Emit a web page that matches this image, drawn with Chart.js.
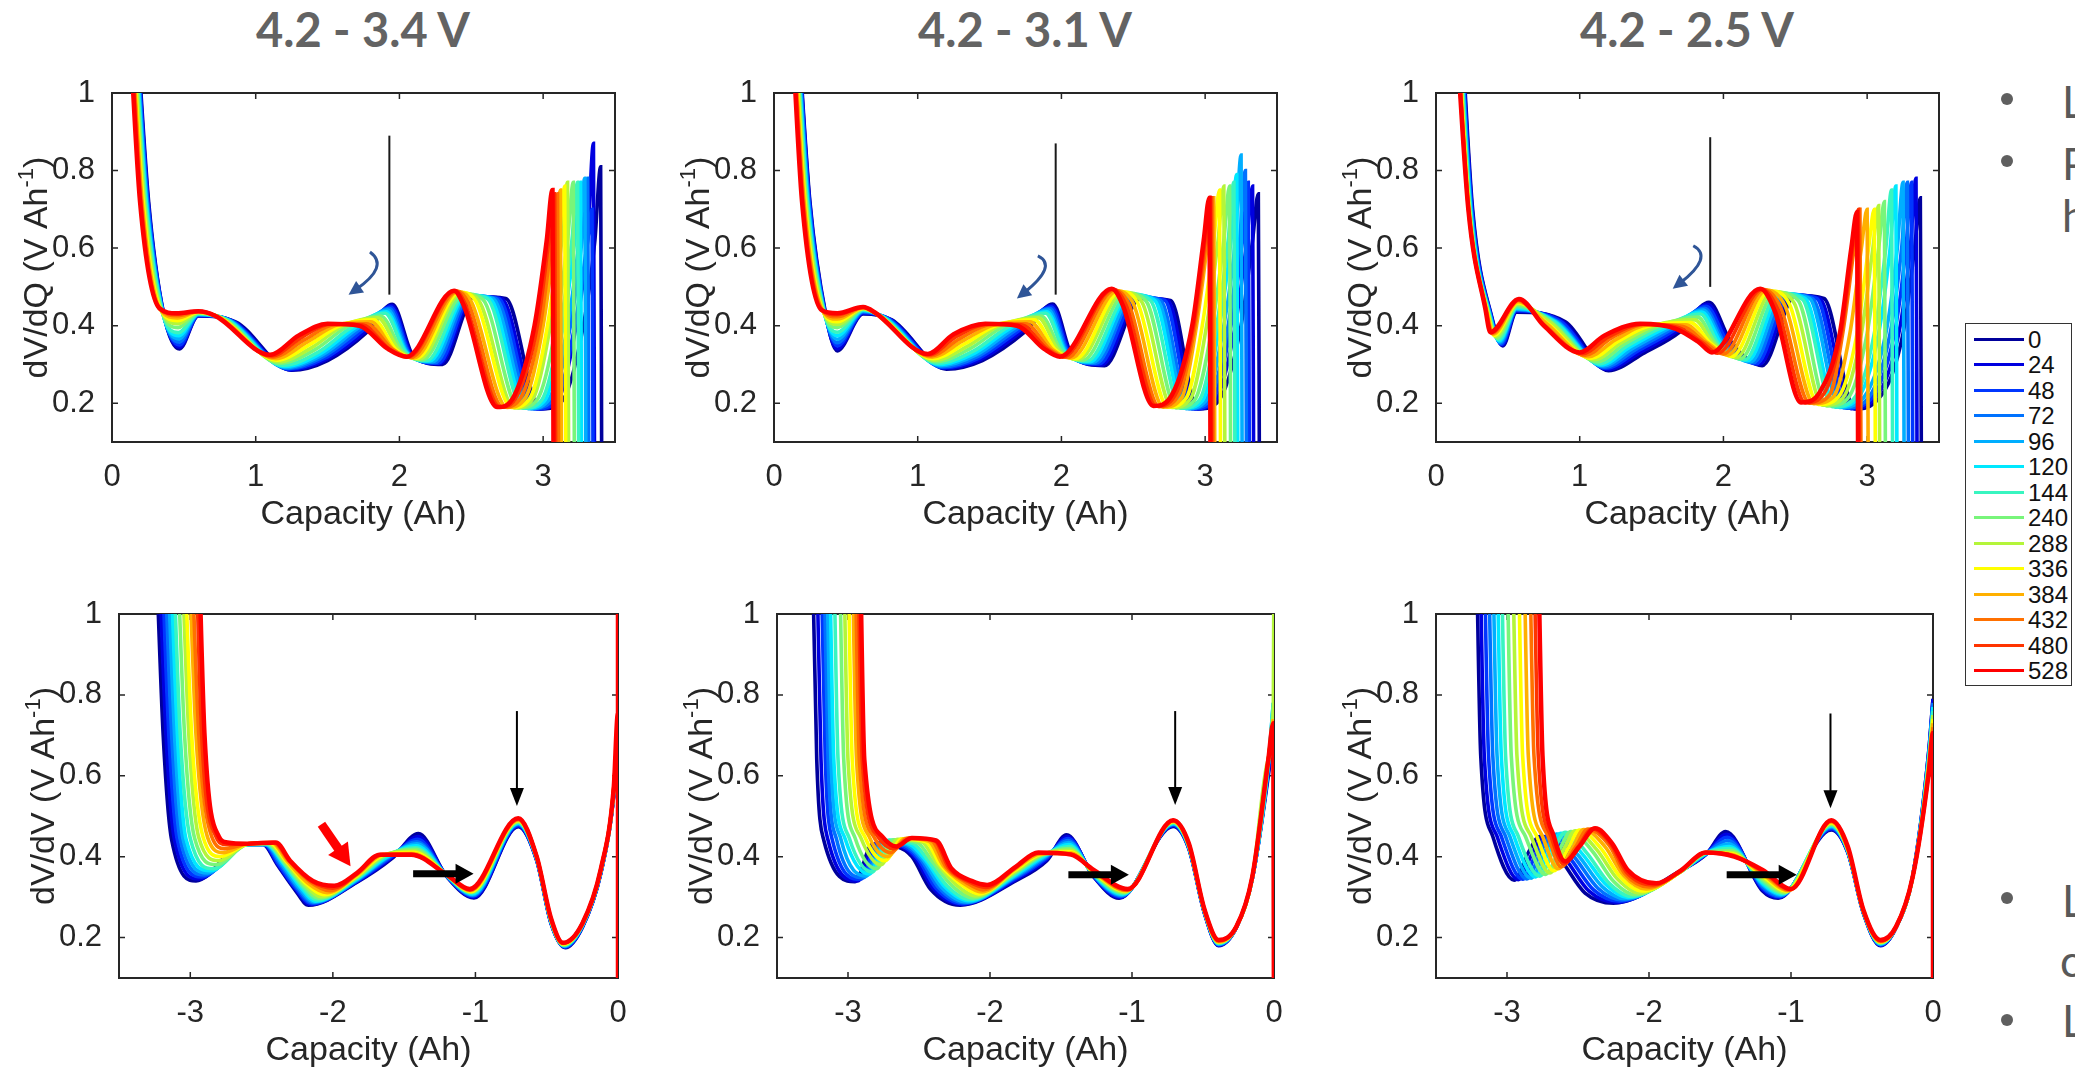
<!DOCTYPE html>
<html>
<head>
<meta charset="utf-8">
<script src="https://cdn.jsdelivr.net/npm/chart.js@4.4.1/dist/chart.umd.min.js"></script>
<style>
html, body { margin:0; padding:0; background:#fff; width:2075px; height:1071px; overflow:hidden; position:relative; }
canvas { position:absolute; }
.title { position:absolute; font:bold 47px Lato, sans-serif; color:#636363; line-height:1; white-space:nowrap; transform:translateX(-50%); }
.bul { position:absolute; width:12px; height:12px; border-radius:50%; background:#5f5f5f; }
.btxt { position:absolute; font:44px Lato, sans-serif; color:#595959; line-height:1; white-space:nowrap; }
#legend { position:absolute; left:1965px; top:323px; width:107px; height:363px; border:1.5px solid #333; box-sizing:border-box; background:#fff; }
.lline { position:absolute; left:8px; width:50px; height:3px; }
.ltxt { position:absolute; left:62px; font:24px "Liberation Sans", Arial, sans-serif; color:#111; line-height:1; }
</style>
</head>
<body>

<div class="title" style="left:363px;top:6px">4.2 - 3.4 V</div>
<div class="title" style="left:1025px;top:6px">4.2 - 3.1 V</div>
<div class="title" style="left:1687px;top:6px">4.2 - 2.5 V</div>

<div id="legend"></div>

<div class="bul" style="left:2001px;top:93px"></div>
<div class="btxt" style="left:2062px;top:79px">L</div>
<div class="bul" style="left:2001px;top:155px"></div>
<div class="btxt" style="left:2062px;top:141px">P</div>
<div class="btxt" style="left:2062px;top:193px">h</div>
<div class="bul" style="left:2001px;top:892px"></div>
<div class="btxt" style="left:2062px;top:878px">L</div>
<div class="btxt" style="left:2060px;top:938px">c</div>
<div class="bul" style="left:2001px;top:1014px"></div>
<div class="btxt" style="left:2062px;top:998px">L</div>

<script>
// ---------- DATA ----------
// storage time (h) of each curve, legend order
const LEGEND = ['0','24','48','72','96','120','144','240','288','336','384','432','480','528'];
const COLORS = ['#00009C','#0000E0','#0036FF','#0072FF','#00AEFF','#00E8FF','#38F5C0','#78F57A','#B4F53A','#FFFF00','#FFB000','#FF7000','#FF3400','#FF0000'];

const Y_TICKS = [0.2, 0.4, 0.6, 0.8, 1];
const X_TICKS_TOP = [0, 1, 2, 3];
const X_TICKS_BOTTOM = [-3, -2, -1, 0];

// each curve: x0,y0, x1,y1, ... (capacity Ah, dV/dQ V/Ah)
// 4.2 - 3.4 V, top
const curvesA = [
  [.175,1.15, .255,.72, .36,.43, .47,.34, .6,.425, .86,.41, 1.25,.285, 1.5,.31, 1.78,.385, 1.95,.455, 2.1,.32, 2.3,.30, 2.52,.475, 2.74,.47, 2.98,.185, 3.12,.2, 3.28,.4, 3.36,.62, 3.40,.81, 3.408,-.05],
  [.172,1.15, .252,.72, .36,.43, .47,.345, .6,.426, .85,.41, 1.24,.286, 1.49,.313, 1.77,.387, 1.945,.452, 2.09,.322, 2.28,.302, 2.51,.475, 2.71,.47, 2.96,.185, 3.09,.2, 3.23,.4, 3.31,.62, 3.35,.87, 3.358,-.05],
  [.17,1.15, .25,.72, .358,.431, .47,.35, .6,.427, .84,.411, 1.23,.288, 1.48,.316, 1.75,.389, 1.94,.448, 2.08,.324, 2.27,.303, 2.5,.476, 2.69,.47, 2.94,.185, 3.08,.2, 3.22,.4, 3.31,.62, 3.34,.70, 3.348,-.05],
  [.167,1.15, .246,.72, .356,.432, .468,.358, .6,.428, .83,.412, 1.22,.29, 1.47,.32, 1.73,.391, 1.93,.444, 2.07,.326, 2.25,.305, 2.49,.477, 2.67,.47, 2.92,.186, 3.05,.202, 3.19,.4, 3.27,.62, 3.31,.78, 3.318,-.05],
  [.164,1.15, .242,.72, .354,.433, .466,.366, .6,.429, .82,.413, 1.21,.292, 1.46,.324, 1.71,.393, 1.92,.44, 2.06,.328, 2.23,.307, 2.48,.478, 2.65,.47, 2.9,.186, 3.03,.204, 3.17,.4, 3.25,.62, 3.29,.78, 3.298,-.05],
  [.16,1.15, .238,.72, .352,.434, .464,.374, .6,.43, .81,.414, 1.2,.295, 1.45,.328, 1.69,.395, 1.91,.436, 2.05,.33, 2.21,.309, 2.47,.479, 2.63,.47, 2.88,.187, 3.01,.206, 3.14,.4, 3.22,.62, 3.26,.77, 3.268,-.05],
  [.157,1.15, .234,.72, .35,.436, .462,.382, .6,.431, .8,.415, 1.19,.298, 1.44,.333, 1.67,.397, 1.9,.432, 2.04,.332, 2.19,.31, 2.46,.48, 2.61,.47, 2.86,.187, 2.99,.208, 3.12,.4, 3.2,.62, 3.24,.77, 3.248,-.05],
  [.153,1.15, .228,.72, .347,.437, .46,.395, .6,.433, .78,.417, 1.17,.303, 1.42,.34, 1.64,.399, 1.87,.425, 2.02,.334, 2.16,.312, 2.45,.482, 2.58,.468, 2.83,.188, 2.96,.21, 3.09,.4, 3.17,.62, 3.21,.77, 3.218,-.05],
  [.148,1.15, .222,.72, .344,.439, .458,.405, .6,.434, .77,.418, 1.16,.307, 1.4,.346, 1.61,.4, 1.85,.42, 2.0,.336, 2.14,.314, 2.43,.484, 2.55,.466, 2.8,.188, 2.93,.212, 3.05,.4, 3.13,.62, 3.17,.77, 3.178,-.05],
  [.143,1.15, .216,.72, .341,.44, .456,.413, .6,.435, .76,.419, 1.15,.311, 1.38,.352, 1.59,.401, 1.82,.415, 1.98,.337, 2.12,.316, 2.42,.486, 2.53,.464, 2.78,.189, 2.91,.214, 3.03,.4, 3.11,.62, 3.15,.76, 3.158,-.05],
  [.139,1.15, .21,.72, .338,.441, .454,.42, .6,.436, .75,.42, 1.14,.315, 1.36,.358, 1.57,.402, 1.8,.41, 1.96,.338, 2.1,.317, 2.41,.488, 2.5,.462, 2.75,.189, 2.88,.216, 3.0,.4, 3.08,.62, 3.12,.75, 3.128,-.05],
  [.135,1.15, .205,.72, .335,.442, .452,.426, .6,.436, .74,.422, 1.12,.319, 1.34,.364, 1.55,.403, 1.77,.405, 1.95,.339, 2.08,.318, 2.4,.489, 2.48,.458, 2.72,.19, 2.85,.218, 2.98,.4, 3.06,.62, 3.10,.74, 3.108,-.05],
  [.13,1.15, .2,.72, .333,.443, .45,.43, .6,.437, .73,.424, 1.11,.322, 1.32,.37, 1.52,.404, 1.74,.402, 1.93,.34, 2.06,.319, 2.39,.49, 2.46,.454, 2.7,.19, 2.82,.22, 2.96,.4, 3.04,.62, 3.08,.74, 3.088,-.05],
  [.125,1.15, .195,.72, .33,.445, .45,.432, .6,.437, .72,.425, 1.1,.325, 1.3,.375, 1.5,.405, 1.72,.40, 1.92,.34, 2.05,.32, 2.38,.49, 2.45,.45, 2.68,.19, 2.8,.22, 2.94,.4, 3.025,.62, 3.065,.75, 3.073,-.05]
];

// 4.2 - 3.1 V, top
const curvesB = [
  [.17,1.15, .25,.72, .36,.43, .44,.335, .62,.43, .82,.415, 1.2,.288, 1.45,.31, 1.75,.385, 1.94,.456, 2.08,.32, 2.3,.297, 2.55,.47, 2.76,.465, 2.95,.185, 3.08,.2, 3.25,.4, 3.33,.62, 3.37,.74, 3.378,-.05],
  [.168,1.15, .248,.72, .358,.43, .44,.34, .62,.432, .81,.416, 1.19,.29, 1.44,.313, 1.73,.387, 1.935,.452, 2.07,.322, 2.28,.299, 2.54,.472, 2.74,.465, 2.93,.185, 3.06,.2, 3.21,.4, 3.29,.62, 3.33,.76, 3.338,-.05],
  [.166,1.15, .245,.72, .356,.431, .44,.348, .62,.434, .8,.417, 1.18,.292, 1.43,.317, 1.71,.389, 1.93,.448, 2.06,.324, 2.26,.301, 2.53,.474, 2.72,.465, 2.91,.185, 3.04,.2, 3.18,.4, 3.26,.62, 3.30,.77, 3.308,-.05],
  [.164,1.15, .242,.72, .354,.432, .44,.356, .62,.436, .79,.418, 1.17,.294, 1.42,.321, 1.69,.391, 1.92,.444, 2.05,.326, 2.24,.303, 2.51,.476, 2.69,.465, 2.89,.186, 3.02,.202, 3.16,.4, 3.24,.62, 3.28,.80, 3.288,-.05],
  [.16,1.15, .238,.72, .352,.433, .44,.365, .62,.438, .78,.419, 1.16,.297, 1.41,.325, 1.67,.393, 1.91,.44, 2.04,.328, 2.22,.305, 2.5,.478, 2.67,.465, 2.87,.186, 3.0,.204, 3.13,.4, 3.21,.62, 3.25,.84, 3.258,-.05],
  [.157,1.15, .234,.72, .35,.434, .44,.374, .62,.44, .77,.42, 1.15,.3, 1.4,.33, 1.65,.395, 1.9,.436, 2.03,.33, 2.2,.307, 2.48,.48, 2.65,.465, 2.85,.187, 2.98,.206, 3.1,.4, 3.18,.62, 3.22,.79, 3.228,-.05],
  [.154,1.15, .23,.72, .348,.435, .44,.383, .62,.441, .76,.421, 1.14,.303, 1.39,.335, 1.63,.397, 1.89,.432, 2.02,.332, 2.18,.309, 2.47,.482, 2.62,.465, 2.83,.187, 2.96,.208, 3.08,.4, 3.16,.62, 3.20,.77, 3.208,-.05],
  [.15,1.15, .225,.72, .346,.436, .44,.395, .62,.443, .75,.423, 1.13,.307, 1.37,.342, 1.6,.399, 1.86,.425, 2.0,.334, 2.15,.311, 2.45,.484, 2.59,.463, 2.8,.188, 2.93,.21, 3.05,.4, 3.13,.62, 3.17,.76, 3.178,-.05],
  [.146,1.15, .22,.72, .343,.437, .44,.403, .62,.444, .74,.425, 1.12,.311, 1.35,.348, 1.57,.4, 1.84,.42, 1.98,.336, 2.12,.313, 2.43,.486, 2.56,.461, 2.77,.189, 2.9,.212, 3.01,.4, 3.09,.62, 3.13,.76, 3.138,-.05],
  [.142,1.15, .215,.72, .34,.438, .44,.41, .62,.445, .73,.427, 1.11,.315, 1.33,.354, 1.55,.401, 1.81,.415, 1.96,.337, 2.1,.315, 2.41,.488, 2.53,.459, 2.74,.19, 2.87,.214, 2.98,.4, 3.06,.62, 3.10,.75, 3.108,-.05],
  [.138,1.15, .21,.72, .338,.439, .44,.417, .62,.446, .72,.429, 1.1,.319, 1.31,.36, 1.53,.402, 1.78,.41, 1.94,.338, 2.07,.317, 2.39,.49, 2.5,.457, 2.71,.19, 2.84,.216, 2.94,.4, 3.02,.62, 3.06,.73, 3.068,-.05],
  [.134,1.15, .205,.72, .336,.44, .44,.423, .62,.447, .71,.431, 1.09,.322, 1.29,.366, 1.51,.403, 1.75,.405, 1.92,.339, 2.04,.318, 2.37,.492, 2.47,.455, 2.68,.191, 2.81,.218, 2.93,.4, 3.01,.62, 3.05,.73, 3.058,-.05],
  [.13,1.15, .2,.72, .334,.44, .44,.428, .62,.448, .7,.433, 1.08,.325, 1.27,.372, 1.49,.404, 1.72,.402, 1.9,.34, 2.01,.319, 2.36,.494, 2.45,.453, 2.66,.192, 2.79,.22, 2.92,.4, 3.0,.62, 3.04,.73, 3.048,-.05],
  [.127,1.15, .195,.72, .332,.44, .44,.432, .62,.448, .7,.435, 1.07,.327, 1.25,.378, 1.47,.405, 1.69,.40, 1.88,.34, 1.99,.32, 2.35,.495, 2.43,.45, 2.64,.193, 2.77,.222, 2.91,.4, 2.99,.62, 3.03,.73, 3.038,-.05]
];

// 4.2 - 2.5 V, top
const curvesC = [
  [.18,1.15, .255,.70, .39,.42, .465,.348, .56,.435, .9,.41, 1.2,.284, 1.45,.33, 1.7,.385, 1.9,.46, 2.05,.36, 2.27,.297, 2.5,.478, 2.7,.47, 2.915,.185, 3.05,.2, 3.25,.38, 3.33,.6, 3.37,.73, 3.378,-.05],
  [.177,1.15, .252,.70, .387,.421, .46,.35, .56,.437, .88,.41, 1.19,.287, 1.43,.333, 1.68,.387, 1.89,.455, 2.04,.358, 2.25,.3, 2.48,.479, 2.67,.47, 2.89,.186, 3.02,.2, 3.22,.38, 3.3,.6, 3.34,.78, 3.348,-.05],
  [.174,1.15, .249,.70, .384,.422, .455,.352, .56,.439, .87,.41, 1.18,.29, 1.41,.336, 1.66,.389, 1.88,.45, 2.03,.356, 2.23,.302, 2.46,.48, 2.65,.47, 2.86,.187, 3.0,.201, 3.19,.38, 3.27,.6, 3.31,.77, 3.318,-.05],
  [.171,1.15, .246,.70, .381,.423, .45,.355, .56,.441, .85,.41, 1.17,.293, 1.39,.339, 1.64,.391, 1.87,.445, 2.01,.354, 2.21,.305, 2.44,.481, 2.62,.47, 2.84,.188, 2.98,.202, 3.16,.38, 3.24,.6, 3.28,.77, 3.288,-.05],
  [.168,1.15, .243,.70, .378,.424, .445,.358, .56,.443, .84,.41, 1.16,.296, 1.37,.342, 1.62,.393, 1.86,.44, 2.0,.352, 2.19,.307, 2.42,.482, 2.6,.47, 2.81,.189, 2.95,.204, 3.13,.38, 3.21,.6, 3.25,.77, 3.258,-.05],
  [.165,1.15, .24,.70, .375,.425, .44,.361, .56,.445, .83,.41, 1.15,.299, 1.35,.345, 1.6,.395, 1.85,.435, 1.99,.35, 2.17,.31, 2.4,.483, 2.57,.47, 2.78,.19, 2.92,.206, 3.08,.38, 3.16,.6, 3.2,.76, 3.208,-.05],
  [.162,1.15, .237,.70, .372,.426, .435,.364, .565,.448, .82,.41, 1.14,.302, 1.33,.348, 1.58,.397, 1.84,.43, 1.97,.35, 2.15,.312, 2.38,.484, 2.55,.468, 2.76,.191, 2.9,.208, 3.05,.38, 3.13,.6, 3.17,.75, 3.178,-.05],
  [.158,1.15, .234,.70, .368,.428, .425,.368, .565,.452, .8,.41, 1.12,.307, 1.31,.352, 1.55,.399, 1.82,.422, 1.95,.352, 2.12,.315, 2.36,.486, 2.52,.465, 2.72,.193, 2.86,.21, 3.0,.38, 3.08,.6, 3.12,.72, 3.128,-.05],
  [.155,1.15, .232,.70, .364,.43, .415,.372, .57,.456, .79,.41, 1.1,.312, 1.29,.356, 1.52,.4, 1.8,.415, 1.93,.354, 2.09,.318, 2.34,.488, 2.49,.46, 2.69,.195, 2.83,.213, 2.96,.38, 3.04,.6, 3.08,.71, 3.088,-.05],
  [.152,1.15, .23,.70, .36,.432, .405,.375, .57,.459, .78,.405, 1.08,.316, 1.27,.36, 1.5,.401, 1.77,.408, 1.91,.355, 2.06,.321, 2.32,.49, 2.46,.455, 2.66,.197, 2.8,.216, 2.93,.38, 3.01,.6, 3.05,.70, 3.058,-.05],
  [.149,1.15, .228,.70, .356,.434, .398,.378, .572,.462, .77,.405, 1.06,.32, 1.25,.364, 1.48,.402, 1.74,.402, 1.89,.356, 2.03,.324, 2.3,.492, 2.43,.45, 2.63,.199, 2.77,.219, 2.88,.38, 2.96,.6, 3.0,.70, 3.008,-.05],
  [.146,1.15, .227,.70, .352,.436, .39,.38, .574,.465, .76,.40, 1.04,.324, 1.22,.368, 1.46,.403, 1.72,.398, 1.87,.357, 2.0,.327, 2.28,.493, 2.4,.445, 2.6,.2, 2.74,.222, 2.83,.38, 2.91,.6, 2.95,.70, 2.958,-.05],
  [.144,1.15, .226,.70, .348,.438, .384,.382, .576,.467, .755,.40, 1.02,.328, 1.2,.371, 1.44,.404, 1.69,.395, 1.85,.357, 1.96,.329, 2.27,.494, 2.38,.44, 2.57,.201, 2.7,.225, 2.82,.38, 2.9,.6, 2.94,.70, 2.948,-.05],
  [.142,1.15, .225,.70, .345,.44, .378,.383, .577,.469, .75,.40, 1.0,.331, 1.17,.374, 1.42,.405, 1.67,.392, 1.83,.357, 1.92,.331, 2.256,.495, 2.36,.435, 2.54,.202, 2.67,.228, 2.81,.38, 2.89,.6, 2.93,.693, 2.938,-.05]
];

// 4.2 - 3.4 V, bottom
const curvesD = [
  [-3.24,1.15, -3.19,.70, -3.13,.44, -2.96,.34, -2.63,.43, -2.49,.43, -2.39,.38, -2.27,.32, -2.17,.28, -1.83,.337, -1.58,.397, -1.4,.457, -1.2,.35, -1.01,.298, -.7,.474, -.57,.39, -.47,.235, -.37,.175, -.25,.225, -.12,.36, -.03,.55, 0,.69],
  [-3.22,1.15, -3.17,.70, -3.11,.44, -2.94,.345, -2.62,.43, -2.485,.43, -2.385,.38, -2.265,.321, -2.16,.282, -1.83,.338, -1.585,.398, -1.4,.45, -1.2,.351, -1.01,.3, -.7,.476, -.57,.391, -.47,.236, -.372,.176, -.25,.226, -.12,.36, -.03,.55, 0,.70],
  [-3.2,1.15, -3.15,.70, -3.09,.441, -2.92,.35, -2.61,.43, -2.48,.43, -2.38,.381, -2.26,.322, -2.15,.284, -1.83,.34, -1.59,.399, -1.405,.443, -1.2,.351, -1.015,.302, -.7,.478, -.57,.392, -.47,.237, -.374,.177, -.25,.227, -.12,.362, -.03,.555, 0,.71],
  [-3.18,1.15, -3.13,.70, -3.07,.442, -2.9,.355, -2.61,.43, -2.475,.43, -2.37,.382, -2.25,.323, -2.14,.286, -1.83,.341, -1.6,.4, -1.41,.437, -1.2,.352, -1.015,.304, -.7,.48, -.57,.393, -.47,.238, -.376,.178, -.25,.228, -.12,.362, -.03,.555, 0,.72],
  [-3.16,1.15, -3.11,.70, -3.05,.443, -2.88,.36, -2.6,.43, -2.47,.43, -2.36,.383, -2.24,.324, -2.13,.288, -1.83,.343, -1.605,.401, -1.41,.432, -1.2,.352, -1.02,.306, -.7,.482, -.57,.394, -.47,.239, -.378,.179, -.25,.229, -.12,.364, -.03,.56, 0,.72],
  [-3.14,1.15, -3.09,.70, -3.03,.444, -2.86,.365, -2.6,.43, -2.465,.43, -2.35,.384, -2.23,.326, -2.12,.29, -1.83,.345, -1.61,.402, -1.415,.427, -1.2,.353, -1.02,.308, -.7,.483, -.57,.395, -.47,.24, -.38,.18, -.25,.23, -.12,.364, -.03,.56, 0,.73],
  [-3.12,1.15, -3.07,.70, -3.0,.445, -2.84,.37, -2.6,.43, -2.46,.431, -2.345,.385, -2.22,.328, -2.11,.293, -1.83,.347, -1.62,.403, -1.42,.422, -1.2,.353, -1.025,.31, -.7,.485, -.57,.396, -.47,.241, -.38,.181, -.25,.231, -.12,.366, -.03,.56, 0,.73],
  [-3.09,1.15, -3.04,.70, -2.97,.446, -2.82,.38, -2.6,.43, -2.455,.432, -2.34,.386, -2.21,.33, -2.1,.297, -1.83,.349, -1.63,.403, -1.425,.418, -1.2,.354, -1.025,.312, -.7,.487, -.57,.397, -.47,.242, -.382,.182, -.25,.232, -.12,.366, -.03,.565, 0,.74],
  [-3.06,1.15, -3.01,.70, -2.94,.447, -2.8,.39, -2.6,.431, -2.45,.433, -2.33,.387, -2.2,.332, -2.08,.301, -1.83,.351, -1.64,.404, -1.43,.414, -1.2,.354, -1.03,.313, -.7,.488, -.57,.398, -.47,.243, -.383,.183, -.25,.233, -.12,.368, -.03,.565, 0,.74],
  [-3.04,1.15, -2.99,.70, -2.91,.448, -2.79,.40, -2.6,.431, -2.44,.434, -2.325,.388, -2.19,.334, -2.06,.306, -1.83,.353, -1.645,.404, -1.435,.411, -1.2,.355, -1.03,.314, -.7,.49, -.57,.399, -.47,.244, -.384,.184, -.25,.233, -.12,.368, -.03,.565, 0,.74],
  [-3.01,1.15, -2.96,.70, -2.88,.449, -2.77,.41, -2.6,.432, -2.43,.435, -2.32,.389, -2.18,.336, -2.04,.311, -1.83,.355, -1.65,.405, -1.44,.408, -1.2,.355, -1.035,.316, -.7,.491, -.57,.4, -.47,.245, -.385,.185, -.25,.234, -.12,.37, -.03,.57, 0,.75],
  [-2.99,1.15, -2.94,.70, -2.85,.45, -2.76,.42, -2.6,.432, -2.42,.435, -2.31,.39, -2.16,.338, -2.02,.316, -1.83,.357, -1.66,.405, -1.445,.406, -1.2,.355, -1.035,.317, -.7,.492, -.57,.4, -.47,.246, -.385,.186, -.25,.234, -.12,.37, -.03,.57, 0,.75],
  [-2.96,1.15, -2.92,.70, -2.82,.45, -2.75,.43, -2.6,.432, -2.41,.435, -2.305,.39, -2.15,.339, -2.0,.322, -1.83,.358, -1.665,.405, -1.45,.405, -1.2,.355, -1.04,.318, -.7,.494, -.57,.4, -.47,.247, -.386,.187, -.25,.235, -.12,.37, -.03,.57, 0,.75],
  [-2.94,1.15, -2.90,.70, -2.80,.45, -2.74,.435, -2.6,.432, -2.40,.435, -2.30,.39, -2.14,.34, -1.99,.328, -1.83,.36, -1.67,.405, -1.45,.405, -1.2,.355, -1.04,.32, -.7,.495, -.57,.4, -.47,.248, -.386,.187, -.25,.235, -.12,.37, -.03,.57, 0,.756, 0,1.2, 0,-.1]
];

// 4.2 - 3.1 V, bottom
const curvesE = [
  [-3.25,1.15, -3.22,.64, -3.17,.44, -2.95,.338, -2.83,.43, -2.66,.425, -2.55,.40, -2.42,.32, -2.21,.28, -1.82,.34, -1.6,.39, -1.46,.454, -1.27,.35, -1.09,.297, -.71,.475, -.6,.42, -.49,.26, -.39,.18, -.265,.225, -.153,.345, -.04,.6, -.005,.7],
  [-3.22,1.15, -3.19,.64, -3.14,.44, -2.93,.34, -2.81,.432, -2.64,.426, -2.53,.398, -2.4,.321, -2.2,.282, -1.82,.343, -1.605,.392, -1.455,.45, -1.27,.351, -1.085,.299, -.71,.477, -.6,.421, -.49,.261, -.39,.181, -.265,.225, -.153,.345, -.04,.61, -.005,.72],
  [-3.19,1.15, -3.16,.64, -3.11,.441, -2.91,.344, -2.79,.434, -2.62,.427, -2.51,.396, -2.38,.322, -2.19,.284, -1.82,.346, -1.61,.394, -1.45,.445, -1.27,.352, -1.08,.301, -.71,.478, -.6,.422, -.49,.262, -.39,.182, -.265,.225, -.153,.346, -.04,.62, -.005,.74],
  [-3.17,1.15, -3.14,.64, -3.08,.442, -2.89,.348, -2.77,.436, -2.6,.428, -2.49,.394, -2.36,.323, -2.18,.286, -1.82,.349, -1.615,.396, -1.45,.44, -1.27,.353, -1.075,.303, -.71,.48, -.6,.423, -.49,.263, -.39,.183, -.265,.225, -.153,.346, -.04,.62, -.005,.76],
  [-3.15,1.15, -3.12,.64, -3.05,.443, -2.87,.352, -2.75,.438, -2.58,.429, -2.47,.392, -2.34,.324, -2.16,.288, -1.82,.352, -1.62,.398, -1.445,.435, -1.27,.354, -1.07,.305, -.71,.481, -.6,.424, -.49,.264, -.39,.184, -.265,.226, -.153,.347, -.04,.63, -.005,.78],
  [-3.13,1.15, -3.1,.64, -3.02,.444, -2.85,.357, -2.73,.44, -2.56,.43, -2.45,.39, -2.32,.326, -2.15,.291, -1.82,.355, -1.625,.4, -1.445,.43, -1.27,.355, -1.065,.307, -.71,.482, -.6,.425, -.49,.265, -.39,.185, -.265,.226, -.153,.347, -.04,.63, -.005,.78],
  [-3.1,1.15, -3.07,.64, -2.99,.445, -2.83,.362, -2.71,.441, -2.54,.432, -2.43,.388, -2.3,.327, -2.14,.294, -1.82,.358, -1.63,.402, -1.44,.425, -1.27,.356, -1.06,.309, -.71,.484, -.6,.426, -.49,.265, -.39,.186, -.265,.226, -.153,.348, -.04,.63, -.005,.77],
  [-3.06,1.15, -3.03,.64, -2.95,.446, -2.8,.37, -2.68,.442, -2.51,.434, -2.4,.385, -2.27,.329, -2.12,.298, -1.82,.361, -1.635,.404, -1.44,.42, -1.27,.358, -1.055,.311, -.71,.485, -.6,.427, -.49,.266, -.39,.187, -.265,.226, -.153,.348, -.04,.64, -.005,.76],
  [-3.03,1.15, -3.0,.64, -2.91,.447, -2.77,.38, -2.65,.443, -2.48,.436, -2.37,.382, -2.24,.331, -2.1,.303, -1.82,.364, -1.64,.405, -1.435,.416, -1.27,.36, -1.05,.313, -.71,.486, -.6,.428, -.49,.266, -.39,.188, -.265,.226, -.153,.348, -.04,.64, -.005,.75, 0,1.2],
  [-3.0,1.15, -2.97,.64, -2.88,.448, -2.74,.39, -2.62,.444, -2.45,.437, -2.35,.38, -2.21,.333, -2.08,.308, -1.82,.367, -1.645,.406, -1.435,.412, -1.27,.361, -1.045,.315, -.71,.487, -.6,.429, -.49,.267, -.39,.189, -.265,.227, -.153,.349, -.04,.64, -.005,.74],
  [-2.97,1.15, -2.94,.64, -2.85,.449, -2.72,.40, -2.6,.445, -2.43,.438, -2.33,.378, -2.19,.335, -2.06,.313, -1.82,.37, -1.65,.407, -1.43,.409, -1.27,.363, -1.04,.316, -.71,.488, -.6,.43, -.49,.268, -.39,.19, -.265,.227, -.153,.349, -.04,.64, -.005,.74],
  [-2.95,1.15, -2.92,.64, -2.82,.45, -2.7,.41, -2.58,.446, -2.41,.439, -2.31,.375, -2.17,.337, -2.05,.318, -1.82,.372, -1.655,.408, -1.43,.407, -1.27,.364, -1.035,.317, -.71,.489, -.6,.431, -.49,.269, -.39,.191, -.265,.227, -.153,.35, -.04,.64, -.005,.73],
  [-2.93,1.15, -2.9,.64, -2.79,.45, -2.68,.42, -2.56,.446, -2.39,.44, -2.29,.372, -2.15,.338, -2.03,.324, -1.82,.374, -1.66,.409, -1.43,.406, -1.27,.366, -1.03,.319, -.71,.49, -.6,.432, -.49,.27, -.39,.193, -.265,.227, -.153,.35, -.04,.64, -.005,.73],
  [-2.915,1.15, -2.885,.64, -2.76,.45, -2.66,.425, -2.55,.446, -2.38,.44, -2.27,.37, -2.13,.34, -2.02,.33, -1.82,.375, -1.66,.41, -1.43,.405, -1.27,.367, -1.03,.32, -.71,.49, -.6,.433, -.49,.27, -.39,.194, -.265,.227, -.153,.35, -.04,.64, -.005,.73, 0,-.1]
];

// 4.2 - 2.5 V, bottom
const curvesF = [
  [-3.215,1.15, -3.185,.65, -3.1,.45, -2.95,.342, -2.85,.41, -2.77,.45, -2.62,.392, -2.45,.31, -2.25,.285, -1.78,.365, -1.6,.405, -1.46,.462, -1.2,.315, -1.09,.297, -.716,.466, -.6,.41, -.49,.26, -.37,.18, -.26,.225, -.143,.352, -.03,.66, 0,.79],
  [-3.19,1.15, -3.16,.65, -3.07,.45, -2.92,.343, -2.82,.41, -2.74,.45, -2.59,.395, -2.42,.314, -2.23,.287, -1.78,.364, -1.6,.406, -1.455,.455, -1.2,.318, -1.085,.299, -.716,.468, -.6,.411, -.49,.261, -.37,.181, -.26,.225, -.143,.352, -.03,.66, 0,.79],
  [-3.16,1.15, -3.13,.65, -3.04,.45, -2.89,.344, -2.79,.412, -2.71,.452, -2.56,.398, -2.39,.318, -2.21,.29, -1.78,.364, -1.6,.406, -1.45,.448, -1.2,.322, -1.08,.301, -.716,.47, -.6,.412, -.49,.262, -.37,.182, -.26,.225, -.143,.351, -.03,.65, 0,.78],
  [-3.13,1.15, -3.1,.65, -3.01,.45, -2.86,.345, -2.76,.414, -2.68,.454, -2.53,.401, -2.36,.322, -2.19,.293, -1.78,.363, -1.6,.407, -1.445,.44, -1.2,.326, -1.075,.303, -.716,.472, -.6,.413, -.49,.262, -.37,.183, -.26,.226, -.143,.351, -.03,.65, 0,.78],
  [-3.1,1.15, -3.07,.65, -2.98,.45, -2.83,.347, -2.73,.415, -2.65,.456, -2.5,.404, -2.33,.326, -2.17,.296, -1.78,.363, -1.6,.407, -1.44,.432, -1.2,.33, -1.07,.305, -.716,.474, -.6,.414, -.49,.263, -.37,.184, -.26,.226, -.143,.351, -.03,.65, 0,.77],
  [-3.07,1.15, -3.04,.65, -2.95,.45, -2.8,.35, -2.7,.416, -2.62,.458, -2.47,.407, -2.3,.33, -2.15,.299, -1.78,.362, -1.6,.408, -1.435,.425, -1.2,.334, -1.065,.307, -.716,.476, -.6,.415, -.49,.264, -.37,.185, -.26,.226, -.143,.35, -.03,.64, 0,.77],
  [-3.04,1.15, -3.01,.65, -2.92,.45, -2.77,.352, -2.67,.417, -2.59,.46, -2.44,.41, -2.28,.334, -2.13,.302, -1.78,.362, -1.6,.408, -1.43,.42, -1.2,.338, -1.06,.309, -.716,.478, -.6,.416, -.49,.264, -.37,.186, -.26,.226, -.143,.35, -.03,.64, 0,.76],
  [-3.0,1.15, -2.97,.65, -2.87,.45, -2.73,.356, -2.63,.418, -2.55,.462, -2.4,.414, -2.25,.339, -2.1,.306, -1.78,.362, -1.6,.409, -1.425,.415, -1.2,.343, -1.05,.311, -.716,.48, -.6,.417, -.49,.265, -.37,.187, -.26,.226, -.143,.35, -.03,.63, 0,.75],
  [-2.96,1.15, -2.93,.65, -2.83,.45, -2.7,.36, -2.6,.419, -2.52,.464, -2.37,.418, -2.22,.344, -2.07,.31, -1.78,.362, -1.6,.409, -1.42,.41, -1.2,.348, -1.04,.313, -.716,.482, -.6,.418, -.49,.265, -.37,.188, -.26,.227, -.143,.35, -.03,.63, 0,.75],
  [-2.92,1.15, -2.89,.65, -2.79,.45, -2.67,.365, -2.57,.42, -2.49,.466, -2.34,.421, -2.2,.349, -2.05,.315, -1.78,.362, -1.6,.41, -1.415,.407, -1.2,.352, -1.03,.315, -.716,.484, -.6,.419, -.49,.266, -.37,.189, -.26,.227, -.143,.35, -.03,.62, 0,.74],
  [-2.88,1.15, -2.85,.65, -2.75,.45, -2.64,.37, -2.54,.421, -2.46,.467, -2.31,.425, -2.18,.354, -2.02,.32, -1.78,.362, -1.6,.41, -1.41,.405, -1.2,.357, -1.02,.316, -.716,.486, -.6,.42, -.49,.266, -.37,.19, -.26,.227, -.143,.35, -.03,.62, 0,.73],
  [-2.84,1.15, -2.81,.65, -2.71,.45, -2.62,.375, -2.52,.422, -2.43,.468, -2.28,.428, -2.17,.358, -2.0,.325, -1.78,.363, -1.6,.41, -1.405,.403, -1.2,.361, -1.01,.317, -.716,.488, -.6,.421, -.49,.267, -.37,.191, -.26,.227, -.143,.35, -.03,.61, 0,.72],
  [-2.81,1.15, -2.78,.65, -2.69,.45, -2.6,.382, -2.5,.424, -2.4,.469, -2.27,.431, -2.16,.362, -1.97,.33, -1.78,.364, -1.6,.41, -1.4,.401, -1.2,.364, -1.005,.319, -.716,.489, -.6,.423, -.49,.267, -.37,.192, -.26,.227, -.143,.35, -.03,.61, 0,.71],
  [-2.78,1.15, -2.75,.65, -2.67,.45, -2.59,.388, -2.49,.425, -2.38,.47, -2.26,.433, -2.15,.367, -1.95,.334, -1.78,.365, -1.6,.41, -1.4,.40, -1.2,.367, -1.0,.32, -.716,.49, -.6,.425, -.49,.268, -.37,.194, -.26,.227, -.143,.35, -.03,.607, 0,.706, 0,-.1]
];

// ---------- ANNOTATIONS (data coordinates) ----------
const marksA = { vline: [1.93, .89, .48], curl: [1.795, .59, 1.826, .544, 1.646, .48] };
const marksB = { vline: [1.96, .87, .48], curl: [1.836, .58, 1.87, .54, 1.69, .47] };
const marksC = { vline: [1.908, .886, .50], curl: [1.79, .606, 1.826, .564, 1.647, .495] };
const marksD = { down: [-.709, .76, .525], right: [-1.437, -1.013, .358], red: [-2.08, .48, -1.876, .376] };
const marksE = { down: [-.696, .76, .528], right: [-1.448, -1.022, .355] };
const marksF = { down: [-.722, .754, .52], right: [-1.453, -.96, .355] };

// ---------- LAYOUT ----------
// paddings kept larger than the tick-label overhang so Chart.js does not shift the plot box
const PADL = 110, PADR = 26, PADT = 32, PADB = 100;
const AXIS = '#262626';
const FONT = '"Liberation Sans", Arial, sans-serif';

const panels = [
  { box: [112, 93, 503, 349], curves: curvesA, xr: [0, 3.5], xt: X_TICKS_TOP, ylab: 'dV/dQ (V Ah', marks: marksA },
  { box: [774, 93, 503, 349], curves: curvesB, xr: [0, 3.5], xt: X_TICKS_TOP, ylab: 'dV/dQ (V Ah', marks: marksB },
  { box: [1436, 93, 503, 349], curves: curvesC, xr: [0, 3.5], xt: X_TICKS_TOP, ylab: 'dV/dQ (V Ah', marks: marksC },
  { box: [119, 614, 499, 364], curves: curvesD, xr: [-3.5, 0], xt: X_TICKS_BOTTOM, ylab: 'dV/dV (V Ah', marks: marksD },
  { box: [777, 614, 497, 364], curves: curvesE, xr: [-3.5, 0], xt: X_TICKS_BOTTOM, ylab: 'dV/dV (V Ah', marks: marksE },
  { box: [1436, 614, 497, 364], curves: curvesF, xr: [-3.5, 0], xt: X_TICKS_BOTTOM, ylab: 'dV/dV (V Ah', marks: marksF }
];

function toPoints(flat) {
  const pts = [];
  for (let i = 0; i < flat.length; i += 2) pts.push({ x: flat[i], y: flat[i + 1] });
  return pts;
}

function arrowHead(ctx, tx, ty, dx, dy, len, half) {
  const L = Math.hypot(dx, dy), ux = dx / L, uy = dy / L;
  const bx = tx - ux * len, by = ty - uy * len;
  ctx.beginPath();
  ctx.moveTo(tx, ty);
  ctx.lineTo(bx - uy * half, by + ux * half);
  ctx.lineTo(bx + uy * half, by - ux * half);
  ctx.closePath();
  ctx.fill();
}

function drawMarks(chart, m) {
  const { ctx, scales: { x, y } } = chart;
  const px = v => x.getPixelForValue(v), py = v => y.getPixelForValue(v);
  ctx.save();
  if (m.vline) {
    ctx.strokeStyle = '#1a1a1a'; ctx.lineWidth = 2;
    ctx.beginPath();
    ctx.moveTo(px(m.vline[0]), py(m.vline[1]));
    ctx.lineTo(px(m.vline[0]), py(m.vline[2]));
    ctx.stroke();
  }
  if (m.curl) {
    const p0 = [px(m.curl[0]), py(m.curl[1])], b = [px(m.curl[2]), py(m.curl[3])], p2 = [px(m.curl[4]), py(m.curl[5])];
    const c = [2 * b[0] - (p0[0] + p2[0]) / 2, 2 * b[1] - (p0[1] + p2[1]) / 2];
    const dx = p2[0] - c[0], dy = p2[1] - c[1], L = Math.hypot(dx, dy);
    ctx.strokeStyle = '#2F5597'; ctx.fillStyle = '#2F5597'; ctx.lineWidth = 3;
    ctx.beginPath();
    ctx.moveTo(p0[0], p0[1]);
    ctx.quadraticCurveTo(c[0], c[1], p2[0] - dx / L * 9, p2[1] - dy / L * 9);
    ctx.stroke();
    arrowHead(ctx, p2[0], p2[1], dx, dy, 14, 7);
  }
  if (m.down) {
    const X = px(m.down[0]), y1 = py(m.down[1]), y2 = py(m.down[2]);
    ctx.strokeStyle = '#000'; ctx.fillStyle = '#000'; ctx.lineWidth = 2;
    ctx.beginPath(); ctx.moveTo(X, y1); ctx.lineTo(X, y2 - 14); ctx.stroke();
    arrowHead(ctx, X, y2, 0, 1, 18, 7);
  }
  if (m.right) {
    const x1 = px(m.right[0]), x2 = px(m.right[1]), Y = py(m.right[2]);
    ctx.strokeStyle = '#000'; ctx.fillStyle = '#000'; ctx.lineWidth = 7;
    ctx.beginPath(); ctx.moveTo(x1, Y); ctx.lineTo(x2 - 14, Y); ctx.stroke();
    arrowHead(ctx, x2, Y, 1, 0, 18, 10);
  }
  if (m.red) {
    const x1 = px(m.red[0]), y1 = py(m.red[1]), x2 = px(m.red[2]), y2 = py(m.red[3]);
    const dx = x2 - x1, dy = y2 - y1, L = Math.hypot(dx, dy);
    ctx.strokeStyle = '#FF0000'; ctx.fillStyle = '#FF0000'; ctx.lineWidth = 9;
    ctx.beginPath(); ctx.moveTo(x1, y1); ctx.lineTo(x2 - dx / L * 18, y2 - dy / L * 18); ctx.stroke();
    arrowHead(ctx, x2, y2, dx, dy, 22, 12);
  }
  ctx.restore();
}

function panelPlugin(p) {
  return {
    id: 'panel',
    beforeDatasetsDraw(chart) {
      const { ctx, chartArea: a, scales: { x, y } } = chart;
      ctx.save();
      ctx.strokeStyle = AXIS; ctx.lineWidth = 1.5;
      ctx.beginPath();
      x.ticks.forEach(t => {
        const q = x.getPixelForValue(t.value);
        ctx.moveTo(q, a.bottom); ctx.lineTo(q, a.bottom - 6);
        ctx.moveTo(q, a.top); ctx.lineTo(q, a.top + 6);
      });
      y.ticks.forEach(t => {
        const q = y.getPixelForValue(t.value);
        ctx.moveTo(a.left, q); ctx.lineTo(a.left + 6, q);
        ctx.moveTo(a.right, q); ctx.lineTo(a.right - 6, q);
      });
      ctx.stroke();
      ctx.lineWidth = 2;
      ctx.strokeRect(a.left, a.top, a.right - a.left, a.bottom - a.top);
      ctx.restore();
    },
    afterDatasetsDraw(chart) { drawMarks(chart, p.marks); },
    afterDraw(chart) {
      const { ctx, chartArea: a } = chart;
      ctx.save();
      ctx.fillStyle = AXIS;
      // x title
      ctx.font = '34px ' + FONT;
      ctx.textAlign = 'center'; ctx.textBaseline = 'alphabetic';
      ctx.fillText('Capacity (Ah)', (a.left + a.right) / 2, a.bottom + 82);
      // y title with superscript
      const sup = '-1', close = ')';
      const w1 = ctx.measureText(p.ylab).width, w3 = ctx.measureText(close).width;
      ctx.font = '22px ' + FONT;
      const w2 = ctx.measureText(sup).width;
      ctx.translate(a.left - 77, (a.top + a.bottom) / 2);
      ctx.rotate(-Math.PI / 2);
      ctx.textAlign = 'left';
      let sx = -(w1 + w2 + w3) / 2;
      ctx.font = '34px ' + FONT; ctx.fillText(p.ylab, sx, 12); sx += w1;
      ctx.font = '22px ' + FONT; ctx.fillText(sup, sx, -2); sx += w2;
      ctx.font = '34px ' + FONT; ctx.fillText(close, sx, 12);
      ctx.restore();
    }
  };
}

// ---------- CHARTS ----------
panels.forEach(p => {
  const W = p.box[2] + PADL + PADR, H = p.box[3] + PADT + PADB;
  const cv = document.createElement('canvas');
  cv.width = W; cv.height = H;
  cv.style.left = (p.box[0] - PADL) + 'px';
  cv.style.top = (p.box[1] - PADT) + 'px';
  cv.style.width = W + 'px'; cv.style.height = H + 'px';
  document.body.appendChild(cv);

  new Chart(cv, {
    type: 'line',
    data: {
      datasets: p.curves.map((flat, i) => ({
        label: LEGEND[i],
        data: toPoints(flat),
        borderColor: COLORS[i],
        borderWidth: i === 13 ? 4.5 : 3.6,
        pointRadius: 0,
        fill: false,
        cubicInterpolationMode: 'monotone',
        order: 13 - i
      }))
    },
    options: {
      responsive: false, animation: false, devicePixelRatio: 1, events: [],
      layout: { padding: { left: 0, top: PADT, right: PADR, bottom: 0 } },
      elements: { line: { capBezierPoints: false } },
      plugins: { legend: { display: false }, tooltip: { enabled: false } },
      scales: {
        x: {
          type: 'linear', min: p.xr[0], max: p.xr[1],
          grid: { display: false }, border: { display: false },
          ticks: { font: { size: 31, family: FONT }, color: AXIS, padding: 9, maxRotation: 0, autoSkip: false, callback: v => String(v) },
          afterBuildTicks: s => { s.ticks = p.xt.map(v => ({ value: v })); },
          afterFit: s => { s.height = PADB; }
        },
        y: {
          type: 'linear', min: 0.1, max: 1,
          grid: { display: false }, border: { display: false },
          ticks: { font: { size: 31, family: FONT }, color: AXIS, padding: 9, autoSkip: false, callback: v => String(v) },
          afterBuildTicks: s => { s.ticks = Y_TICKS.map(v => ({ value: v })); },
          afterFit: s => { s.width = PADL; }
        }
      }
    },
    plugins: [panelPlugin(p)]
  });
});

// ---------- LEGEND ----------
const legend = document.getElementById('legend');
LEGEND.forEach((lab, i) => {
  const yc = 15 + i * 25.5;
  const line = document.createElement('div');
  line.className = 'lline';
  line.style.top = (yc - 1.5) + 'px';
  line.style.background = COLORS[i];
  legend.appendChild(line);
  const txt = document.createElement('div');
  txt.className = 'ltxt';
  txt.style.top = (yc - 11.5) + 'px';
  txt.textContent = lab;
  legend.appendChild(txt);
});
</script>
</body>
</html>
